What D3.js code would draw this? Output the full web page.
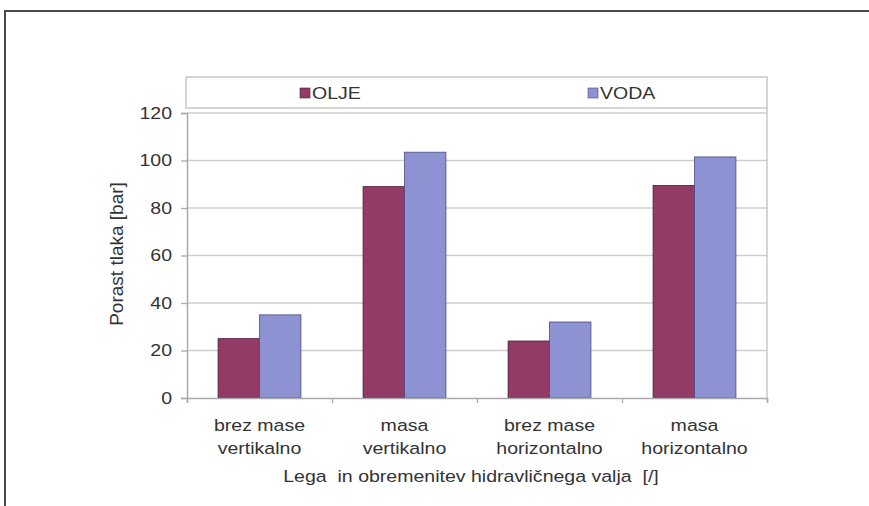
<!DOCTYPE html>
<html>
<head>
<meta charset="utf-8">
<script src="https://cdn.jsdelivr.net/npm/d3@7"></script>
<style>
  html, body { margin: 0; padding: 0; background: #fff; }
  svg { display: block; font-family: "Liberation Sans", Arial, sans-serif; }
</style>
</head>
<body>
<svg id="chart" width="869" height="506"></svg>
<script>
// Pressure rise per cylinder position / load case
const categories = [
  ["brez mase", "vertikalno"],
  ["masa", "vertikalno"],
  ["brez mase", "horizontalno"],
  ["masa", "horizontalno"]
];
const seriesNames = ["OLJE", "VODA"];
const olje = [25, 89, 24, 89.5];
const voda = [35, 103.5, 32, 101.5];
const yTicks = [0, 20, 40, 60, 80, 100, 120];
const seriesColors = ["#933a67", "#8d93d2"];
const seriesStroke = ["#4a1f3c", "#4c4a7c"];

const FONT = 17;      // label font size
const SX = 1.15;      // horizontal widening of label glyphs
const TXT = "#333";

const svg = d3.select("#chart");

// outer frame (top and left edges)
svg.append("path")
  .attr("d", "M5,506 V11 H869")
  .attr("fill", "none")
  .attr("stroke", "#4a4a4a")
  .attr("stroke-width", 2);

const plot = { left: 187, right: 767, top: 113, bottom: 398 };

const x0 = d3.scaleBand()
  .domain(d3.range(categories.length))
  .range([plot.left, plot.right]);

const bw = x0.bandwidth() / 3.5;          // gap width 150 %
const x1 = d3.scaleBand()
  .domain(d3.range(seriesNames.length))
  .range([0, 2 * bw]);

const y = d3.scaleLinear().domain([0, 120]).range([plot.bottom, plot.top]);

// gridlines
svg.append("g")
  .selectAll("line")
  .data(yTicks.filter(t => t > 0))
  .join("line")
  .attr("x1", plot.left).attr("x2", plot.right)
  .attr("y1", d => y(d)).attr("y2", d => y(d))
  .attr("stroke", "#cfcfcf")
  .attr("stroke-width", 1.6);

// plot area right edge
svg.append("line")
  .attr("x1", plot.right).attr("x2", plot.right)
  .attr("y1", 108).attr("y2", plot.bottom)
  .attr("stroke", "#c8c8c8").attr("stroke-width", 1.5);

// bars
const values = [olje, voda];
const groups = svg.append("g")
  .selectAll("g")
  .data(categories.map((c, i) => i))
  .join("g")
  .attr("transform", i => `translate(${x0(i) + (x0.bandwidth() - 2 * bw) / 2},0)`);

groups.selectAll("rect")
  .data(i => values.map((v, s) => ({ s, v: v[i] })))
  .join("rect")
  .attr("x", d => x1(d.s))
  .attr("width", x1.bandwidth())
  .attr("y", d => y(d.v))
  .attr("height", d => y(0) - y(d.v))
  .attr("fill", d => seriesColors[d.s])
  .attr("stroke", d => seriesStroke[d.s])
  .attr("stroke-width", 0.8);

// y axis
const yAxis = svg.append("g")
  .attr("transform", `translate(${plot.left},0)`)
  .call(d3.axisLeft(y).tickValues(yTicks).tickSize(6));
yAxis.select(".domain").attr("stroke", "#aaa").attr("stroke-width", 1.5);
yAxis.selectAll(".tick line").attr("stroke", "#aaa").attr("stroke-width", 1.3);
yAxis.selectAll(".tick text")
  .attr("x", 0)
  .attr("transform", `translate(-15,0) scale(${SX},1)`)
  .attr("font-size", FONT)
  .attr("fill", TXT)
  .attr("font-family", "Liberation Sans, Arial, sans-serif");

// x axis (category separators)
const xAxisScale = d3.scaleLinear().domain([0, 4]).range([plot.left, plot.right]);
const xAxis = svg.append("g")
  .attr("transform", `translate(0,${plot.bottom})`)
  .call(d3.axisBottom(xAxisScale).tickValues([0, 1, 2, 3, 4]).tickSize(5).tickFormat(""));
xAxis.select(".domain").attr("stroke", "#aaa").attr("stroke-width", 1.5);
xAxis.selectAll(".tick line").attr("stroke", "#aaa").attr("stroke-width", 1.3);

// category labels (two lines)
const catLabels = svg.append("g")
  .selectAll("text")
  .data(categories)
  .join("text")
  .attr("transform", (d, i) => `translate(${x0(i) + x0.bandwidth() / 2},431) scale(${SX},1)`)
  .attr("text-anchor", "middle")
  .attr("font-size", FONT)
  .attr("fill", TXT);
catLabels.selectAll("tspan")
  .data(d => d)
  .join("tspan")
  .attr("x", 0)
  .attr("dy", (d, i) => i === 0 ? 0 : 23)
  .text(d => d);

// axis titles
svg.append("text")
  .attr("transform", `translate(471,482) scale(${SX},1)`)
  .attr("text-anchor", "middle")
  .attr("font-size", FONT)
  .attr("fill", TXT)
  .attr("xml:space", "preserve")
  .text("Lega  in obremenitev hidravličnega valja  [/]");

svg.append("text")
  .attr("transform", "translate(123,254) rotate(-90)")
  .attr("text-anchor", "middle")
  .attr("font-size", 19)
  .attr("fill", TXT)
  .text("Porast tlaka [bar]");

// legend
svg.append("rect")
  .attr("x", 186).attr("y", 77)
  .attr("width", 581).attr("height", 31)
  .attr("fill", "#fff")
  .attr("stroke", "#c8c8c8")
  .attr("stroke-width", 1.5);

const legendX = [300, 588];
const leg = svg.append("g")
  .selectAll("g")
  .data(seriesNames)
  .join("g")
  .attr("transform", (d, i) => `translate(${legendX[i]},93)`);
leg.append("rect")
  .attr("x", 0).attr("y", -5)
  .attr("width", 10).attr("height", 10)
  .attr("fill", (d, i) => seriesColors[i])
  .attr("stroke", (d, i) => seriesStroke[i])
  .attr("stroke-width", 0.6);
leg.append("text")
  .attr("transform", `translate(12,6) scale(${SX},1)`)
  .attr("font-size", FONT)
  .attr("fill", TXT)
  .text(d => d);
</script>
</body>
</html>
